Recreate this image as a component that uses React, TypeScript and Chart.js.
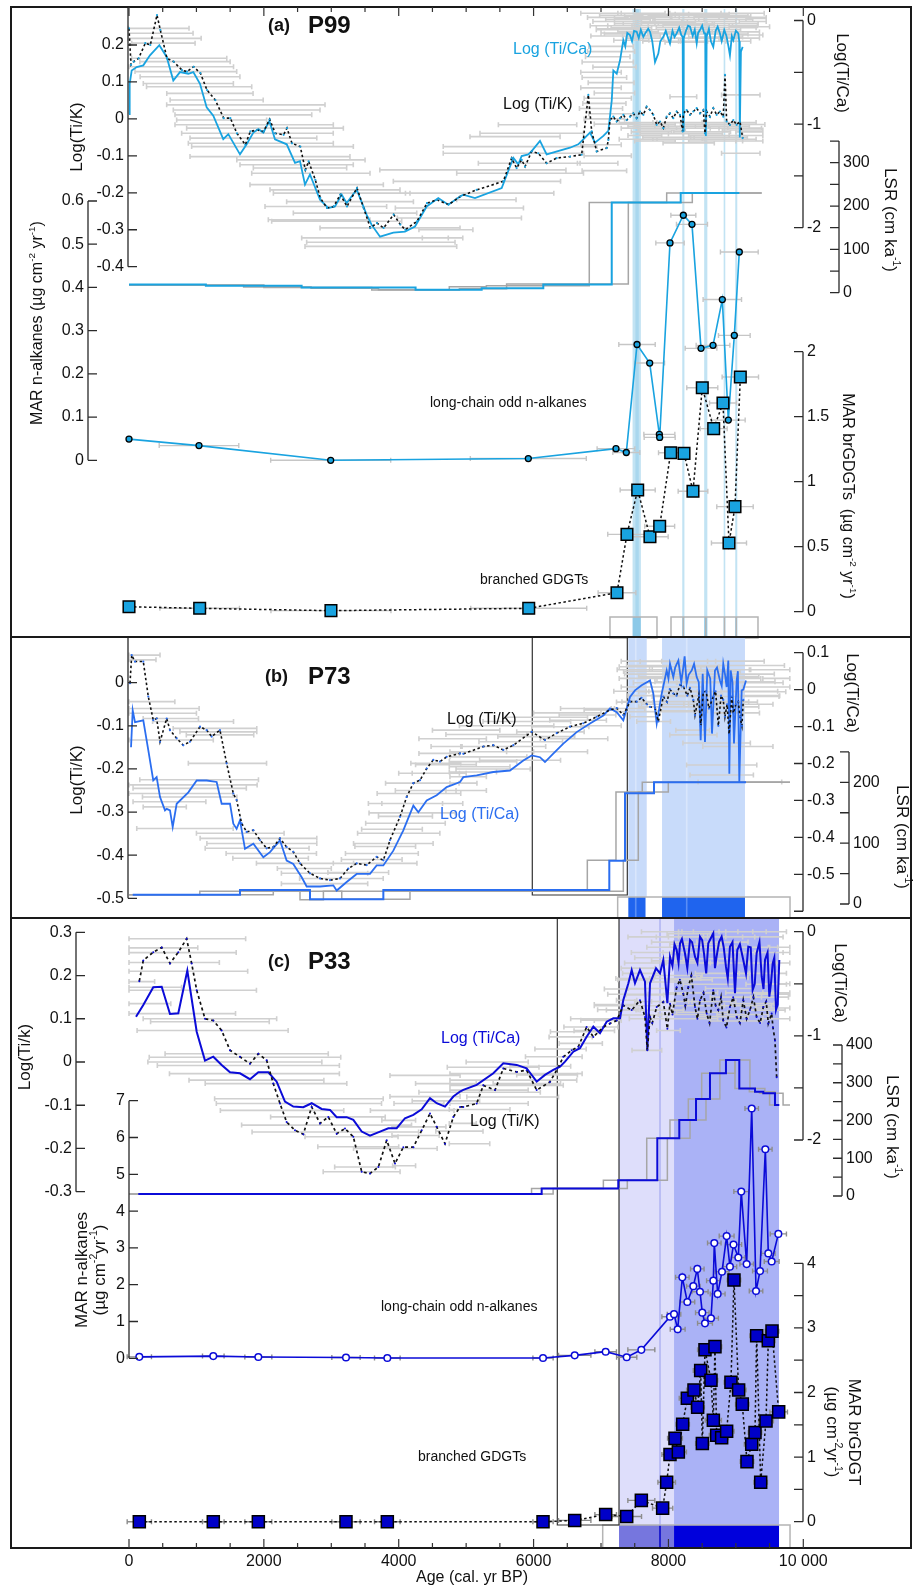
import React, { useEffect, useRef } from 'react';
import { Chart, registerables } from 'chart.js';

Chart.register(...registerables);

const W = 913;
const H = 1587;
const FONT = '"Liberation Sans", Arial, Helvetica, sans-serif';

const CYAN = '#19a3e0';
const BLUE_B = '#2b6ef0';
const BLUE_C = '#0b0bd8';
const GREY_BAR = '#d0d0d0';
const GREY_LSR = '#a6a6a6';

type P = [number, number];
type B = [number, number, number];

// ---------------- x axis ----------------
const xMajor = [0, 2000, 4000, 6000, 8000, 10000];
const xMajorLabels = ['0', '2000', '4000', '6000', '8000', '10 000'];
const xMinor = [500, 1000, 1500, 2500, 3000, 3500, 4500, 5000, 5500, 6500, 7000, 7500, 8500, 9000, 9500];

// ---------------- panel (a) P99 ----------------
const aTiK: P[] = [
  [0, 0.245], [30, 0.146], [70, 0.155], [143, 0.164], [242, 0.205], [316, 0.2], [415, 0.281], [464, 0.241], [563, 0.164],
  [662, 0.155], [786, 0.132], [860, 0.128], [959, 0.141], [1058, 0.124], [1157, 0.078], [1280, 0.051], [1404, 0.002],
  [1503, 0.002], [1601, -0.039], [1725, -0.07], [1799, -0.034], [1898, -0.03], [1997, -0.034], [2086, -0.001],
  [2170, -0.039], [2293, -0.043], [2343, -0.025], [2417, -0.066], [2540, -0.075], [2615, -0.138], [2664, -0.115],
  [2763, -0.165], [2837, -0.214], [2936, -0.241], [3035, -0.237], [3134, -0.205], [3233, -0.237], [3381, -0.187],
  [3480, -0.241], [3579, -0.295], [3678, -0.282], [3776, -0.295], [3925, -0.259], [4024, -0.286], [4098, -0.3],
  [4271, -0.277], [4419, -0.228], [4567, -0.219], [4740, -0.232], [4913, -0.21], [5156, -0.192], [5551, -0.169],
  [5675, -0.106], [5749, -0.133], [5824, -0.111], [5873, -0.129], [5972, -0.088], [6070, -0.093], [6194, -0.12],
  [6342, -0.106], [6540, -0.102], [6713, -0.097], [6812, 0.065], [6862, -0.034], [6936, -0.088], [7084, -0.079],
  [7109, -0.057], [7133, -0.003], [7183, 0.006], [7232, -0.007], [7282, 0.002], [7331, 0.011], [7381, -0.003],
  [7430, 0.006], [7479, 0.015], [7529, 0.002], [7578, 0.02], [7628, 0.011], [7677, 0.033], [7727, 0.024], [7776, 0.011],
  [7826, -0.016], [7875, -0.007], [7924, -0.025], [7974, 0.006], [8023, 0.015], [8072, 0.002], [8122, 0.02], [8171, 0.011],
  [8211, -0.034], [8221, 0.015], [8270, 0.024], [8320, 0.011], [8369, 0.02], [8419, 0.029], [8468, 0.015], [8517, 0.024],
  [8542, -0.039], [8567, 0.02], [8616, 0.006], [8665, 0.029], [8715, 0.011], [8764, 0.02], [8813, 0.006], [8839, 0.119],
  [8863, -0.007], [8912, -0.016], [8962, -0.003], [9011, -0.016], [9061, -0.007], [9101, -0.052],
];
const aTiCa: P[] = [
  [0, -0.903], [10, -0.611], [40, -0.482], [114, -0.449], [212, -0.433], [311, -0.336], [450, -0.238], [559, -0.352],
  [657, -0.579], [756, -0.498], [880, -0.514], [954, -0.498], [1053, -0.611], [1152, -0.839], [1250, -0.919],
  [1398, -1.146], [1473, -1.097], [1646, -1.292], [1745, -1.195], [1844, -1.082], [1918, -1.049], [1992, -1.082],
  [2081, -0.968], [2165, -1.146], [2339, -1.195], [2462, -1.374], [2536, -1.357], [2610, -1.584], [2684, -1.486],
  [2833, -1.73], [2956, -1.811], [3055, -1.795], [3154, -1.681], [3228, -1.763], [3377, -1.632], [3525, -1.876],
  [3599, -1.973], [3723, -2.087], [3920, -2.048], [4093, -2.038], [4241, -1.989], [4415, -1.795], [4587, -1.714],
  [4735, -1.778], [4909, -1.698], [4958, -1.681], [5131, -1.714], [5527, -1.617], [5700, -1.325], [5773, -1.389],
  [5823, -1.308], [5922, -1.292], [5972, -1.26], [6095, -1.162], [6194, -1.292], [6540, -1.228], [6663, -1.195],
  [6837, -1.082], [6911, -1.179], [7035, -1.114], [7109, -1.065], [7159, -0.773], [7183, -0.482], [7233, -0.514],
  [7282, -0.384], [7331, -0.19], [7360, -0.25], [7390, -0.12], [7430, -0.141], [7460, -0.2], [7490, -0.1], [7529, -0.109],
  [7560, -0.17], [7590, -0.09], [7628, -0.158], [7660, -0.12], [7700, -0.08], [7727, -0.109], [7760, -0.2], [7801, -0.401],
  [7850, -0.319], [7880, -0.2], [7924, -0.158], [7960, -0.1], [8000, -0.18], [8023, -0.222], [8060, -0.1], [8090, -0.16],
  [8122, -0.125], [8160, -0.07], [8190, -0.14], [8211, -0.158], [8216, -1.065], [8226, -0.173], [8260, -0.1], [8290, -0.05],
  [8320, -0.06], [8360, -0.15], [8390, -0.09], [8419, -0.222], [8440, -0.12], [8468, -0.092], [8500, -0.05], [8530, -0.125],
  [8547, -0.125], [8555, -1.114], [8566, -0.158], [8600, -0.08], [8630, -0.2], [8665, -0.255], [8700, -0.1], [8730, -0.06],
  [8764, -0.125], [8790, -0.2], [8828, -0.092], [8860, -0.15], [8890, -0.25], [8912, -0.336], [8940, -0.15], [8962, -0.19],
  [9000, -0.1], [9036, -0.125], [9050, -0.2], [9058, -1.13], [9075, -0.3], [9101, -0.255],
];
const aLsrAges = [0, 1140, 2560, 4250, 5230, 6144, 7159, 8182, 9051];
const aLsrBlue = [19, 16, 12, 7, 10, 19, 208, 230, 230];
const aLsrGreyAAges = [0, 1700, 2700, 3700, 4750, 5300, 6826, 7974, 9383];
const aLsrGreyA = [17, 13, 10, 7, 14, 16, 208, 230, 230];
const aLsrGreyBAges = [0, 2000, 3600, 4900, 5600, 7405, 8354, 9383];
const aLsrGreyB = [18, 12, 6, 9, 20, 208, 230, 230];
const aAlk: P[] = [
  [0, 0.049], [1038, 0.034], [2991, 0], [5922, 0.004], [7222, 0.027], [7375, 0.018], [7534, 0.268], [7722, 0.225],
  [7865, 0.06], [7870, 0.053], [8023, 0.503], [8221, 0.567], [8349, 0.546], [8483, 0.259], [8661, 0.266], [8799, 0.372],
  [8888, 0.093], [8977, 0.289], [9051, 0.482],
];
const aAlkErr = [0, 590, 890, 860, 280, 200, 270, 220, 230, 230, 210, 185, 230, 235, 250, 285, 250, 235, 280];
const aBr: P[] = [
  [0, 0.038], [1048, 0.026], [2995, 0.008], [5928, 0.026], [7237, 0.146], [7385, 0.595], [7544, 0.936], [7726, 0.577],
  [7870, 0.657], [8033, 1.223], [8231, 1.218], [8364, 0.926], [8502, 1.723], [8671, 1.408], [8809, 1.605], [8898, 0.528],
  [8987, 0.808], [9066, 1.805],
];
const aBrErr = [0, 590, 890, 860, 280, 285, 260, 270, 222, 180, 0, 220, 230, 200, 200, 260, 270, 270];
const aBands: P[] = [[7468, 7591], [8205, 8237], [8530, 8577], [8819, 8843], [8991, 9021]];
const aBandCore: P[] = [[7510, 7560]];
const aStripBoxes: P[] = [[7133, 7830], [8038, 9328]];
const aBarsK: B[] = [
  [440, 0.245, 450], [470, 0.232, 480], [530, 0.218, 540], [510, 0.205, 470], [745, 0.164, 705], [830, 0.155, 670],
  [775, 0.141, 775], [843, 0.128, 754], [905, 0.114, 740], [880, 0.096, 668], [1040, 0.087, 780], [1200, 0.069, 640],
  [1300, 0.051, 690], [1733, 0.038, 1174], [1745, 0.024, 1088], [1696, 0.011, 1014], [1374, -0.003, 667],
  [1856, -0.016, 1174], [2017, -0.025, 1162], [1905, -0.039, 1124], [1845, -0.052, 940], [1955, -0.066, 1075],
  [2128, -0.075, 1199], [2091, -0.102, 1186], [2550, -0.111, 951], [2486, -0.124, 840], [2536, -0.133, 692],
  [2697, -0.147, 877], [2783, -0.178, 989], [3055, -0.192, 964], [3154, -0.201, 1013], [3278, -0.224, 940],
  [2919, -0.237, 902], [3352, -0.255, 915], [2820, -0.273, 754], [3080, -0.277, 964], [3871, -0.295, 1038],
  [3648, -0.322, 1087], [3735, -0.334, 1100], [3735, -0.345, 1125],
  [6059, -0.016, 581], [5972, -0.039, 767], [5725, -0.048, 668], [5800, -0.075, 1140], [5700, -0.093, 1040],
  [5935, -0.12, 754], [5100, -0.138, 1380], [5800, -0.147, 940], [5160, -0.169, 1240], [5200, -0.201, 1100],
  [5300, -0.219, 440], [4900, -0.241, 950], [4900, -0.268, 920], [4700, -0.3, 400], [4650, -0.322, 300],
  [8221, 0.06, 198], [9073, 0.065, 285], [9073, -0.093, 285],
  [7700, -0.02, 300], [7900, -0.03, 350], [8200, -0.02, 400], [8500, -0.025, 380], [8800, -0.02, 400], [9100, -0.03, 300],
  [7650, -0.045, 250], [8000, -0.05, 380], [8400, -0.04, 400], [8750, -0.05, 420], [9150, -0.045, 250], [7800, -0.06, 300],
  [8300, -0.065, 380], [8700, -0.06, 400], [9200, -0.06, 200],
  [7000, -0.07, 300], [7100, -0.1, 350], [6950, -0.12, 300], [7050, -0.14, 330],
  [7550, -0.01, 280], [8150, -0.01, 380], [8900, -0.01, 400], [7800, -0.015, 300], [8600, -0.015, 420], [9250, -0.015, 180],
  [7600, -0.025, 300], [8350, -0.025, 400], [9000, -0.025, 380], [7750, -0.035, 300], [8500, -0.035, 420],
  [9200, -0.035, 200], [7550, -0.055, 280], [8150, -0.055, 380], [8900, -0.055, 400], [7900, -0.04, 320], [8700, -0.045, 400],
];
const aBarsCa: B[] = [
  [7150, -0.25, 330], [7100, -0.4, 380], [7050, -0.55, 330], [7000, -0.65, 300], [7100, -0.75, 350], [7000, -0.85, 320],
  [7050, -0.95, 300], [7200, -0.15, 350], [7250, -0.08, 320], [7500, 0.02, 300], [7700, 0.04, 350], [7900, 0.06, 400],
  [8200, 0.05, 380], [8500, 0.06, 400], [8800, 0.04, 420], [9100, 0.03, 350], [9300, 0.02, 150], [7400, -0.05, 300],
  [7650, -0.03, 320], [8000, -0.02, 400], [8300, -0.04, 380], [8600, -0.01, 400], [8900, -0.05, 420], [9200, -0.06, 300],
  [7300, -0.12, 300], [7600, -0.15, 280], [8100, -0.12, 350], [8700, -0.16, 400], [9100, -0.14, 300], [7900, -0.2, 280],
  [8500, -0.2, 350],
  [7000, 0.07, 300], [7600, 0.07, 350], [8400, 0.07, 380], [9100, 0.07, 320], [7300, 0.05, 320], [8100, 0.05, 400],
  [8800, 0.05, 380], [7100, 0.03, 300], [7800, 0.03, 360], [8450, 0.03, 420], [9150, 0.03, 300], [7400, 0.01, 330],
  [8150, 0.01, 380], [8850, 0.01, 400], [7200, -0.01, 320], [7900, -0.01, 380], [9250, -0.01, 200], [7500, -0.03, 300],
  [8250, -0.03, 400], [8950, -0.03, 380], [7150, -0.05, 310], [7850, -0.05, 350], [8550, -0.05, 400], [7450, -0.07, 300],
  [8200, -0.07, 380], [8900, -0.07, 400], [7250, -0.09, 320], [7950, -0.09, 350], [8650, -0.09, 420], [7550, -0.11, 300],
  [8350, -0.11, 380], [9000, -0.11, 350], [7350, -0.13, 300], [8050, -0.13, 360], [8800, -0.13, 380], [7650, -0.17, 280],
  [8400, -0.17, 380], [9050, -0.17, 300], [7450, -0.19, 260], [8250, -0.21, 300], [8900, -0.2, 320],
  [7150, -0.3, 350], [7200, -0.45, 320], [7150, -0.6, 340], [7200, -0.7, 300], [7150, -0.9, 330], [7200, -1.0, 300],
  [7100, -0.35, 330], [7000, -0.5, 300], [7050, -0.8, 320],
];

// ---------------- panel (b) P73 ----------------
const bTiK: P[] = [
  [15, -0.001], [40, 0.064], [89, 0.049], [212, 0.049], [286, -0.032], [360, -0.087], [410, -0.083], [460, -0.137],
  [559, -0.083], [608, -0.11], [707, -0.129], [805, -0.145], [904, -0.137], [1053, -0.102], [1152, -0.11], [1226, -0.125],
  [1349, -0.11], [1448, -0.187], [1547, -0.257], [1596, -0.272], [1670, -0.326], [1745, -0.346], [1844, -0.342],
  [1942, -0.365], [2041, -0.384], [2140, -0.381], [2239, -0.361], [2338, -0.381], [2436, -0.392], [2536, -0.419],
  [2684, -0.442], [2833, -0.454], [2981, -0.458], [3129, -0.454], [3253, -0.431], [3377, -0.419], [3525, -0.423],
  [3673, -0.404], [3772, -0.412], [3871, -0.365], [4019, -0.311], [4118, -0.265], [4217, -0.233], [4316, -0.226],
  [4415, -0.199], [4513, -0.179], [4612, -0.183], [4711, -0.172], [4909, -0.164], [4958, -0.165], [5255, -0.148],
  [5403, -0.145], [5551, -0.156], [5700, -0.145], [5972, -0.114], [6169, -0.133], [6343, -0.117], [6540, -0.102],
  [6737, -0.094], [6936, -0.079], [7133, -0.063], [7233, -0.059], [7331, -0.075], [7430, -0.044], [7529, -0.044],
  [7600, -0.035], [7680, -0.05], [7727, -0.056], [7801, -0.059], [7850, -0.09], [7924, -0.032], [7980, -0.045],
  [8020, -0.015], [8072, -0.025], [8120, -0.03], [8170, -0.005], [8221, -0.009], [8280, -0.03], [8320, -0.012],
  [8369, -0.04], [8394, -0.075], [8450, -0.03], [8480, -0.1], [8517, -0.021], [8560, -0.02], [8600, -0.06], [8665, -0.032],
  [8700, -0.02], [8740, -0.1], [8780, -0.03], [8813, -0.04], [8838, -0.079], [8870, -0.05], [8900, -0.12], [8938, -0.032],
  [8962, -0.071], [9000, -0.05], [9036, -0.044], [9061, -0.079], [9090, -0.1], [9110, -0.04],
];
const bTiCa: P[] = [
  [30, -0.156], [55, -0.056], [89, -0.088], [212, -0.083], [286, -0.164], [360, -0.246], [410, -0.237], [460, -0.291],
  [534, -0.327], [559, -0.323], [608, -0.327], [648, -0.372], [707, -0.309], [880, -0.278], [1004, -0.246], [1152, -0.246],
  [1300, -0.25], [1374, -0.309], [1498, -0.309], [1547, -0.363], [1596, -0.377], [1646, -0.354], [1720, -0.431],
  [1844, -0.417], [1992, -0.454], [2091, -0.44], [2239, -0.408], [2338, -0.463], [2436, -0.472], [2561, -0.508],
  [2635, -0.533], [2833, -0.533], [3030, -0.53], [3080, -0.544], [3228, -0.521], [3377, -0.499], [3574, -0.499],
  [3673, -0.476], [3772, -0.476], [3920, -0.436], [4068, -0.381], [4217, -0.314], [4291, -0.332], [4415, -0.3],
  [4563, -0.286], [4711, -0.264], [4909, -0.25], [4958, -0.237], [5156, -0.232], [5403, -0.223], [5650, -0.219],
  [5848, -0.192], [5972, -0.178], [6095, -0.183], [6169, -0.196], [6292, -0.173], [6441, -0.146], [6639, -0.115],
  [6837, -0.092], [7035, -0.07], [7133, -0.051], [7233, -0.061], [7331, -0.083], [7430, -0.02], [7504, -0.002],
  [7603, 0.012], [7727, 0.025], [7776, -0.011], [7826, -0.092], [7900, -0.011], [7974, 0.052], [8000, 0.03], [8023, 0.07],
  [8072, 0.034], [8100, 0.06], [8147, 0.079], [8190, 0.02], [8221, 0.061], [8240, 0.09], [8270, 0.016], [8300, 0.04],
  [8345, 0.052], [8380, 0.07], [8419, 0.034], [8450, 0.02], [8478, -0.137], [8508, 0.043], [8542, -0.142], [8576, 0.052],
  [8620, 0.03], [8646, -0.119], [8690, 0.052], [8720, 0.06], [8764, 0.025], [8790, 0.01], [8813, 0.07], [8840, 0.04],
  [8863, 0.007], [8888, 0.079], [8903, -0.228], [8923, 0.052], [8950, 0.02], [8972, -0.146], [9012, 0.025], [9030, 0.05],
  [9051, -0.25], [9086, -0.002], [9110, 0.0], [9150, 0.025],
];
const bLsrAges = [55, 1646, 2684, 3772, 7123, 7356, 7786, 9150];
const bLsrBlue = [15, 23, 8, 23, 71, 182, 200, 200];
const bLsrGreyAAges = [0, 1050, 2536, 2883, 6797, 7222, 7612, 9803];
const bLsrGreyA = [15, 21, 7, 21, 72, 184, 200, 200];
const bLsrGreyBAges = [0, 2140, 3155, 4167, 7331, 7553, 7998, 9803];
const bLsrGreyB = [15, 21, 8, 21, 72, 184, 200, 200];
const bBands: P[] = [[7405, 7678], [7905, 9135]];
const bBandStripes = [7515, 8271];
const bStripFills: P[] = [[7405, 7660], [7905, 9135]];
const bStripBox: P = [7247, 9803];
const bRect: P = [5981, 7390];
const bBarsK: B[] = [
  [230, 0.064, 230], [200, 0.053, 200], [340, -0.044, 340], [520, -0.06, 520], [500, -0.071, 500], [620, -0.083, 410],
  [950, -0.09, 600], [1275, -0.106, 620], [1325, -0.114, 570], [1350, -0.121, 500], [625, -0.133, 625],
  [1460, -0.187, 580], [1040, -0.225, 880], [950, -0.237, 950], [900, -0.245, 840], [770, -0.257, 770], [900, -0.265, 700],
  [600, -0.276, 540], [530, -0.288, 320], [830, -0.338, 715], [1650, -0.349, 650], [1920, -0.361, 865],
  [1970, -0.373, 815], [1900, -0.384, 770], [2110, -0.396, 670], [2100, -0.407, 560], [2610, -0.419, 720],
  [2600, -0.431, 400], [2900, -0.442, 640], [3150, -0.454, 620], [2900, -0.466, 640],
  [3650, -0.419, 620], [3750, -0.396, 540], [3920, -0.373, 590], [4000, -0.349, 610], [4100, -0.326, 590],
  [4200, -0.302, 640], [4250, -0.28, 700], [4300, -0.257, 620], [4350, -0.233, 545], [4450, -0.21, 450],
  [4550, -0.187, 370], [4600, -0.164, 300], [4700, -0.148, 220],
  [7000, -0.063, 250], [6800, -0.075, 420], [6660, -0.087, 420], [6400, -0.102, 420], [6250, -0.114, 500],
  [6040, -0.125, 570], [5810, -0.137, 620], [5560, -0.148, 620], [5380, -0.16, 620], [5330, -0.172, 570],
  [5250, -0.183, 500], [5200, -0.195, 450], [5100, -0.207, 350], [5030, -0.218, 270], [4960, -0.233, 200],
  [7880, 0.049, 300], [8010, 0.037, 740], [8200, 0.026, 865], [8450, 0.014, 890], [8690, 0.002, 890],
  [7900, -0.01, 600], [9450, -0.01, 350], [8650, -0.021, 1090], [8700, -0.032, 940], [8250, -0.044, 940],
  [8450, -0.056, 890], [7870, -0.067, 640], [7630, -0.079, 200], [7780, -0.09, 250],
  [8360, -0.11, 250], [8370, -0.121, 350], [9030, -0.148, 520], [8715, -0.14, 500], [8790, -0.191, 520],
  [8790, -0.214, 470], [9060, -0.23, 620],
  [7600, 0.05, 300], [8300, 0.05, 400], [9000, 0.05, 420], [7700, 0.04, 320], [8500, 0.04, 400], [9300, 0.04, 420],
  [7500, 0.03, 260], [8100, 0.03, 380], [8800, 0.03, 420], [9500, 0.03, 300], [7650, 0.02, 300], [8400, 0.02, 400],
  [9150, 0.02, 420], [7550, 0.01, 280], [8200, 0.01, 400], [8950, 0.01, 420], [9600, 0.01, 200], [7800, 0.0, 320],
  [8550, 0.0, 420], [9300, 0.0, 400], [7450, -0.02, 260], [8050, -0.02, 380], [9200, -0.02, 420], [7700, -0.03, 300],
  [8400, -0.03, 400], [9350, -0.03, 300], [7500, -0.045, 270], [8900, -0.045, 420], [7950, -0.05, 350],
  [8650, -0.05, 420], [9300, -0.05, 250], [7400, -0.06, 250], [8200, -0.065, 380], [9000, -0.07, 350],
  [5000, -0.11, 500], [5300, -0.12, 600], [5600, -0.1, 700], [5900, -0.09, 650], [6200, -0.08, 600], [6500, -0.07, 500],
  [6800, -0.06, 400], [4800, -0.13, 500], [4700, -0.19, 450], [4600, -0.21, 400], [4400, -0.25, 450], [4200, -0.28, 450],
  [4100, -0.31, 400], [3900, -0.34, 450], [3800, -0.38, 450], [3600, -0.41, 450], [3400, -0.44, 450], [5000, -0.25, 300],
  [5400, -0.2, 550], [5800, -0.18, 600], [6200, -0.16, 600], [6600, -0.13, 500], [7000, -0.1, 300],
];

// ---------------- panel (c) P33 ----------------
const cTiK: P[] = [
  [153, 0.187], [212, 0.235], [360, 0.254], [485, 0.265], [608, 0.228], [731, 0.254], [855, 0.285], [929, 0.228],
  [1004, 0.166], [1127, 0.1], [1250, 0.096], [1374, 0.073], [1498, 0.027], [1646, 0.012], [1794, -0.004], [1918, 0.019],
  [2041, 0.004], [2140, -0.05], [2239, -0.096], [2338, -0.139], [2462, -0.158], [2585, -0.167], [2709, -0.104],
  [2833, -0.142], [2956, -0.127], [3080, -0.166], [3203, -0.154], [3327, -0.173], [3451, -0.254], [3574, -0.258],
  [3698, -0.243], [3822, -0.181], [3945, -0.235], [4068, -0.197], [4217, -0.197], [4341, -0.158], [4464, -0.119],
  [4563, -0.15], [4686, -0.189], [4810, -0.127], [4909, -0.104], [4958, -0.104], [5156, -0.096], [5255, -0.054],
  [5428, -0.065], [5551, -0.015], [5749, -0.023], [5897, -0.019], [6046, -0.065], [6243, -0.046], [6367, -0.012],
  [6441, 0.012], [6565, 0.027], [6663, 0.035], [6787, 0.081], [6886, 0.058], [7035, 0.081], [7133, 0.089], [7233, 0.096],
  [7331, 0.131], [7455, 0.12], [7578, 0.143], [7652, 0.104], [7687, 0.027], [7727, 0.104], [7760, 0.09], [7826, 0.127],
  [7924, 0.139], [7984, 0.077], [8023, 0.135], [8060, 0.11], [8122, 0.173], [8170, 0.19], [8221, 0.158], [8250, 0.13],
  [8295, 0.173], [8340, 0.2], [8394, 0.127], [8430, 0.1], [8468, 0.143], [8520, 0.16], [8567, 0.112], [8610, 0.09],
  [8665, 0.166], [8700, 0.13], [8739, 0.12], [8780, 0.15], [8813, 0.096], [8860, 0.08], [8912, 0.127], [8960, 0.15],
  [9012, 0.104], [9060, 0.09], [9110, 0.143], [9160, 0.1], [9209, 0.12], [9260, 0.15], [9308, 0.104], [9360, 0.09],
  [9407, 0.127], [9450, 0.14], [9481, 0.089], [9531, 0.112], [9550, 0.08], [9580, 0.05], [9605, -0.035],
];
const cTiCa: P[] = [
  [104, -0.816], [212, -0.703], [360, -0.534], [485, -0.528], [608, -0.79], [731, -0.783], [865, -0.374], [1004, -0.96],
  [1127, -1.238], [1250, -1.2], [1374, -1.279], [1498, -1.35], [1646, -1.36], [1794, -1.416], [1918, -1.35],
  [2066, -1.35], [2190, -1.44], [2313, -1.631], [2437, -1.679], [2585, -1.685], [2709, -1.647], [2857, -1.702],
  [2981, -1.711], [3080, -1.781], [3228, -1.781], [3327, -1.807], [3451, -1.919], [3574, -1.958], [3723, -1.919],
  [3846, -1.887], [3970, -1.887], [4093, -1.791], [4217, -1.759], [4341, -1.705], [4464, -1.599], [4563, -1.647],
  [4686, -1.679], [4810, -1.583], [4909, -1.535], [4958, -1.519], [5156, -1.471], [5403, -1.359], [5551, -1.263],
  [5749, -1.279], [5897, -1.311], [6046, -1.44], [6169, -1.375], [6292, -1.327], [6392, -1.296], [6466, -1.248],
  [6589, -1.152], [6688, -1.119], [6787, -1.008], [6886, -0.912], [6985, -0.975], [7084, -0.864], [7183, -0.831],
  [7282, -0.831], [7331, -0.655], [7406, -0.495], [7455, -0.368], [7504, -0.495], [7578, -0.368], [7652, -0.48],
  [7687, -1.135], [7727, -0.495], [7816, -0.351], [7875, -0.399], [7924, -0.272], [7984, -0.687], [8023, -0.24],
  [8060, -0.33], [8090, -0.12], [8122, -0.176], [8150, -0.3], [8172, -0.111], [8200, -0.07], [8245, -0.207],
  [8280, -0.35], [8320, -0.08], [8350, -0.1], [8394, -0.24], [8430, -0.3], [8468, -0.048], [8500, -0.08], [8527, -0.207],
  [8560, -0.4], [8591, -0.111], [8630, -0.06], [8665, -0.015], [8690, -0.35], [8714, -0.24], [8750, -0.1], [8789, -0.048],
  [8820, -0.15], [8853, -0.336], [8880, -0.45], [8912, -0.144], [8950, -0.1], [8987, -0.591], [9021, -0.176],
  [9060, -0.12], [9110, -0.272], [9150, -0.4], [9184, -0.144], [9220, -0.15], [9249, -0.56], [9280, -0.5], [9308, -0.207],
  [9350, -0.1], [9383, -0.432], [9410, -0.55], [9432, -0.272], [9470, -0.2], [9496, -0.624], [9520, -0.5], [9546, -0.304],
  [9570, -0.25], [9595, -0.751], [9620, -0.7], [9644, -0.272],
];
const cLsrAges = [138, 6120, 7256, 7835, 8161, 8409, 8616, 8853, 9051, 9284, 9407, 9580, 9644];
const cLsrBlue = [5, 20, 42, 153, 201, 257, 325, 360, 285, 276, 272, 241, 241];
const cLsrGreyAAges = [0, 5970, 7035, 7678, 8023, 8295, 8493, 8763, 8987, 9200, 9350, 9500, 9580];
const cLsrGreyA = [5, 20, 42, 153, 201, 257, 325, 360, 285, 276, 272, 241, 241];
const cLsrGreyBAges = [0, 6290, 7390, 7984, 8320, 8557, 8763, 8987, 9209, 9430, 9580, 9700, 9803];
const cLsrGreyB = [5, 20, 42, 153, 201, 257, 325, 360, 285, 276, 272, 241, 241];
const cAlk: P[] = [
  [153, 0.04], [1250, 0.06], [1918, 0.035], [3218, 0.02], [3831, 0.01], [6140, 0.01], [6610, 0.08], [7069, 0.18],
  [7381, 0.03], [7598, 0.23], [8023, 1.13], [8083, 1.2], [8137, 0.79], [8206, 2.2], [8280, 1.53], [8369, 1.96],
  [8428, 2.43], [8468, 1.81], [8502, 1.24], [8542, 0.95], [8631, 1.09], [8666, 2.11], [8680, 3.13], [8730, 1.75],
  [8794, 2.35], [8863, 3.32], [8912, 2.49], [8965, 3.09], [9036, 2.74], [9080, 4.53], [9160, 2.56], [9235, 6.79],
  [9299, 1.83], [9358, 2.37], [9437, 5.68], [9481, 2.85], [9531, 2.63], [9630, 3.38],
];
const cAlkErr = [180, 160, 200, 210, 190, 150, 240, 160, 150, 200, 120, 100, 110, 100, 110, 100, 100, 120, 100, 110,
  110, 100, 100, 110, 100, 110, 100, 120, 100, 110, 100, 100, 100, 110, 100, 100, 110, 120];
const cBr: P[] = [
  [153, 0], [1250, 0], [1918, 0], [3218, 0], [3831, 0], [6140, 0], [6610, 0.02], [7069, 0.11], [7381, 0.08], [7598, 0.33],
  [7914, 0.21], [7974, 0.61], [8023, 1.04], [8097, 1.29], [8147, 1.08], [8211, 1.51], [8280, 1.91], [8379, 2.04],
  [8433, 1.77], [8478, 2.34], [8503, 1.21], [8542, 2.66], [8631, 2.19], [8666, 1.57], [8690, 2.71], [8715, 1.34],
  [8789, 1.3], [8863, 1.4], [8927, 2.16], [8972, 3.74], [9041, 2.04], [9095, 1.82], [9165, 0.93], [9235, 1.2],
  [9284, 1.38], [9308, 2.88], [9368, 0.61], [9447, 1.56], [9481, 2.8], [9536, 2.95], [9635, 1.7],
];
const cBrErr = [180, 160, 200, 210, 190, 150, 240, 160, 220, 200, 150, 130, 120, 110, 120, 100, 120, 110, 100, 110,
  100, 110, 100, 120, 100, 110, 100, 110, 100, 100, 110, 100, 100, 110, 100, 100, 100, 110, 100, 100, 130];
const cBandLight: P = [7267, 8083];
const cBandLine = 7875;
const cBandDark: P = [8083, 9640];
const cStripBox: P = [7025, 9803];
const cRect: P = [6352, 7267];
const cBarsK: B[] = [
  [865, 0.285, 865], [510, 0.264, 510], [795, 0.253, 795], [670, 0.23, 670], [880, 0.21, 880], [190, 0.186, 190],
  [390, 0.173, 390], [945, 0.166, 945], [310, 0.135, 310], [790, 0.112, 790], [1200, 0.1, 990], [1200, 0.093, 880],
  [1240, 0.073, 1120], [1745, 0.019, 1210], [1720, 0.011, 1420], [1570, 0.0, 1290], [1770, -0.008, 1350],
  [1860, -0.027, 1260], [1890, -0.042, 1000], [2180, -0.05, 1050], [2520, -0.085, 1250], [2520, -0.096, 1225],
  [2270, -0.112, 915], [2950, -0.127, 850], [2930, -0.146, 1260], [3060, -0.162, 1235], [3300, -0.173, 690],
  [3400, -0.196, 600], [3450, -0.254, 570], [3500, -0.243, 450],
  [4390, -0.031, 520], [4700, -0.05, 450], [4750, -0.07, 450], [4390, -0.08, 520], [4300, -0.096, 370],
  [4200, -0.112, 620], [4000, -0.135, 250], [4300, -0.15, 400], [4250, -0.17, 350], [3950, -0.2, 620], [4080, -0.24, 170],
  [5460, 0.0, 460], [5400, -0.012, 680], [5740, -0.027, 980], [5700, -0.042, 940], [5600, -0.054, 840],
  [5340, -0.065, 580], [5690, -0.081, 680], [5340, -0.096, 580], [4950, -0.142, 200], [5050, -0.189, 300],
  [6300, 0.012, 420], [6700, 0.043, 320], [6550, 0.058, 320], [6850, 0.081, 400], [7100, 0.096, 200], [7300, 0.12, 220],
  [7380, 0.143, 150], [7680, 0.027, 220], [8000, 0.073, 175],
  [7700, 0.17, 300], [8000, 0.185, 320], [8300, 0.19, 350], [8600, 0.18, 380], [8900, 0.17, 350], [9200, 0.16, 350],
  [9500, 0.15, 280], [7600, 0.13, 280], [7900, 0.12, 320], [8200, 0.11, 350], [8500, 0.115, 380], [8800, 0.105, 380],
  [9100, 0.11, 380], [9400, 0.12, 330], [9600, 0.1, 200], [8050, 0.14, 300], [8650, 0.14, 350], [9250, 0.135, 320],
  [7500, 0.19, 250], [8150, 0.2, 350], [8800, 0.195, 380], [9450, 0.18, 300], [7650, 0.155, 280], [8350, 0.16, 380],
  [9000, 0.15, 380], [9600, 0.16, 200], [7800, 0.14, 300], [8450, 0.13, 380], [9150, 0.13, 380], [7700, 0.1, 280],
  [8350, 0.1, 380], [9000, 0.095, 380], [9550, 0.125, 250],
  [6600, 0.07, 350], [6900, 0.1, 350], [7200, 0.13, 300], [6400, 0.03, 380], [6100, -0.01, 450], [5900, -0.05, 500],
  [6200, -0.03, 450], [5500, -0.07, 600], [5200, -0.11, 450], [4700, -0.09, 500], [4900, -0.16, 350],
];
const cBarsCa: B[] = [
  [8300, -0.02, 320], [8500, -0.05, 350], [8700, 0.0, 330], [8050, -0.1, 300], [8400, -0.12, 380], [8800, -0.1, 380],
  [9100, -0.15, 380], [9400, -0.2, 300], [7800, -0.25, 300], [8100, -0.28, 350], [8600, -0.26, 380], [9000, -0.3, 380],
  [9500, -0.3, 300], [7600, -0.4, 280], [7350, -0.55, 300], [7550, -0.35, 250], [9600, -0.5, 200], [7200, -0.7, 300],
  [7000, -0.85, 300], [6900, -0.95, 300],
  [7900, 0.0, 300], [8500, 0.0, 350], [9100, 0.0, 350], [9500, 0.0, 250], [7700, -0.05, 300], [8200, -0.05, 380],
  [8900, -0.05, 380], [9400, -0.05, 300], [8000, -0.15, 320], [8600, -0.15, 380], [9300, -0.15, 320], [9650, -0.15, 150],
  [7750, -0.2, 300], [8300, -0.2, 380], [8900, -0.2, 380], [9550, -0.2, 250], [7650, -0.3, 300], [8350, -0.3, 380],
  [9250, -0.3, 350], [7500, -0.45, 280], [8100, -0.45, 380], [8800, -0.4, 400], [9400, -0.4, 350], [7400, -0.6, 300],
  [7950, -0.6, 300], [9550, -0.6, 250], [7250, -0.75, 300], [7600, -0.8, 300],
];

// ---------------- axis ticks ----------------
const aTiKTicks = [0.2, 0.1, 0, -0.1, -0.2, -0.3, -0.4];
const aAlkTicks = [0.6, 0.5, 0.4, 0.3, 0.2, 0.1, 0];
const aTiCaTicks = [0, -1, -2];
const aTiCaMinor = [-0.5, -1.5];
const aLsrTicks = [300, 200, 100, 0];
const aLsrMinor = [350, 250, 150, 50];
const aBrTicks = [2, 1.5, 1, 0.5, 0];
const bTiKTicks = [0, -0.1, -0.2, -0.3, -0.4, -0.5];
const bTiCaTicks = [0.1, 0, -0.1, -0.2, -0.3, -0.4, -0.5];
const bTiCaMinor = [-0.6];
const bLsrTicks = [200, 100, 0];
const bLsrMinor = [250, 150, 50];
const cTiKTicks = [0.3, 0.2, 0.1, 0, -0.1, -0.2, -0.3];
const cAlkTicks = [7, 6, 5, 4, 3, 2, 1, 0];
const cTiCaTicks = [0, -1, -2];
const cTiCaMinor = [-0.5, -1.5];
const cLsrTicks = [400, 300, 200, 100, 0];
const cLsrMinor = [350, 250, 150, 50];
const cBrTicks = [4, 3, 2, 1, 0];
const cBrMinor = [3.5, 2.5, 1.5, 0.5];

// ---------------- layout (pixel calibration of each scale: value1, pixel1, value2, pixel2) ----------------
const CAL: Record<string, number[]> = {
  x: [0, 129, 10000, 803.3],
  aTiK: [0.2, 45, -0.4, 266.7],
  aTiCa: [0, 20.5, -2, 227.7],
  aLSR: [300, 162.7, 0, 292.7],
  aAlk: [0.6, 201, 0, 460.3],
  aBr: [2, 351.7, 0, 611.7],
  bTiK: [0, 682.7, -0.5, 898.3],
  bTiCa: [0.1, 652.7, -0.5, 874.3],
  bLSR: [200, 782.3, 0, 904],
  cTiK: [0.3, 932.3, -0.3, 1191.7],
  cTiCa: [0, 931.7, -2, 1140],
  cLSR: [400, 1045, 0, 1196],
  cAlk: [7, 1100.7, 0, 1358.3],
  cBr: [4, 1263.3, 0, 1521.7],
};

type AxisSpec = { scale: string; side: 'left' | 'right'; x: number; from: number; to: number; major: number[]; minor?: number[] };
const AXES: AxisSpec[] = [
  { scale: 'aTiK', side: 'left', x: 128, from: 0.3, to: -0.4, major: aTiKTicks },
  { scale: 'aAlk', side: 'left', x: 88, from: 0.6, to: 0, major: aAlkTicks },
  { scale: 'aTiCa', side: 'right', x: 803, from: 0, to: -2, major: aTiCaTicks, minor: aTiCaMinor },
  { scale: 'aLSR', side: 'right', x: 839, from: 350, to: 0, major: aLsrTicks, minor: aLsrMinor },
  { scale: 'aBr', side: 'right', x: 803, from: 2, to: 0, major: aBrTicks },
  { scale: 'bTiK', side: 'left', x: 128, from: 0.105, to: -0.5, major: bTiKTicks },
  { scale: 'bTiCa', side: 'right', x: 803, from: 0.1, to: -0.6, major: bTiCaTicks, minor: bTiCaMinor },
  { scale: 'bLSR', side: 'right', x: 849, from: 250, to: 0, major: bLsrTicks, minor: bLsrMinor },
  { scale: 'cTiK', side: 'left', x: 76, from: 0.3, to: -0.3, major: cTiKTicks },
  { scale: 'cAlk', side: 'left', x: 129, from: 7, to: 0, major: cAlkTicks },
  { scale: 'cTiCa', side: 'right', x: 803, from: 0, to: -2, major: cTiCaTicks, minor: cTiCaMinor },
  { scale: 'cLSR', side: 'right', x: 842, from: 400, to: 0, major: cLsrTicks, minor: cLsrMinor },
  { scale: 'cBr', side: 'right', x: 803, from: 4, to: 0, major: cBrTicks, minor: cBrMinor },
];

type Part = [string, boolean?];
type Title = { x: number; y: number; rot: number; size: number; parts: Part[] };
const TITLES: Title[] = [
  { x: 77, y: 137, rot: -90, size: 17, parts: [['Log(Ti/K)']] },
  { x: 38, y: 323, rot: -90, size: 16, parts: [['MAR n-alkanes (µg cm'], ['-2', true], [' yr'], ['-1', true], [')']] },
  { x: 842, y: 73, rot: 90, size: 17, parts: [['Log(Ti/Ca)']] },
  { x: 890, y: 220, rot: 90, size: 17, parts: [['LSR (cm ka'], ['-1', true], [')']] },
  { x: 847, y: 496, rot: 90, size: 16, parts: [['MAR brGDGTs  (µg cm'], ['-2', true], [' yr'], ['-1', true], [')']] },
  { x: 77, y: 780, rot: -90, size: 17, parts: [['Log(Ti/K)']] },
  { x: 852, y: 693, rot: 90, size: 17, parts: [['Log(Ti/Ca)']] },
  { x: 902, y: 837, rot: 90, size: 17, parts: [['LSR (cm ka'], ['-1', true], [')']] },
  { x: 25, y: 1057, rot: -90, size: 17, parts: [['Log(Ti/k)']] },
  { x: 82, y: 1270, rot: -90, size: 17, parts: [['MAR n-alkanes']] },
  { x: 100, y: 1270, rot: -90, size: 17, parts: [['(µg cm'], ['-2', true], ['yr'], ['-1', true], [')']] },
  { x: 840, y: 983, rot: 90, size: 17, parts: [['Log(Ti/Ca)']] },
  { x: 892, y: 1127, rot: 90, size: 17, parts: [['LSR (cm ka'], ['-1', true], [')']] },
  { x: 854, y: 1432, rot: 90, size: 17, parts: [['MAR brGDGT']] },
  { x: 832, y: 1432, rot: 90, size: 17, parts: [['(µg cm'], ['-2', true], ['yr'], ['-1', true], [')']] },
];

type Note = { text: string; x: number; y: number; font: string; color: string; align?: CanvasTextAlign };
const NOTES: Note[] = [
  { text: '(a)', x: 268, y: 26, font: `bold 18px ${FONT}`, color: '#111' },
  { text: 'P99', x: 308, y: 26, font: `bold 24px ${FONT}`, color: '#111' },
  { text: 'Log (Ti/Ca)', x: 513, y: 50, font: `16px ${FONT}`, color: CYAN },
  { text: 'Log (Ti/K)', x: 503, y: 105, font: `16px ${FONT}`, color: '#111' },
  { text: 'long-chain odd n-alkanes', x: 430, y: 403, font: `14px ${FONT}`, color: '#111' },
  { text: 'branched GDGTs', x: 480, y: 580, font: `14px ${FONT}`, color: '#111' },
  { text: '(b)', x: 265, y: 677, font: `bold 18px ${FONT}`, color: '#111' },
  { text: 'P73', x: 308, y: 677, font: `bold 24px ${FONT}`, color: '#111' },
  { text: 'Log (Ti/K)', x: 447, y: 720, font: `16px ${FONT}`, color: '#111' },
  { text: 'Log (Ti/Ca)', x: 440, y: 815, font: `16px ${FONT}`, color: BLUE_B },
  { text: '(c)', x: 268, y: 962, font: `bold 18px ${FONT}`, color: '#111' },
  { text: 'P33', x: 308, y: 962, font: `bold 24px ${FONT}`, color: '#111' },
  { text: 'Log (Ti/Ca)', x: 441, y: 1039, font: `16px ${FONT}`, color: BLUE_C },
  { text: 'Log (Ti/K)', x: 470, y: 1122, font: `16px ${FONT}`, color: '#111' },
  { text: 'long-chain odd n-alkanes', x: 381, y: 1307, font: `14px ${FONT}`, color: '#111' },
  { text: 'branched GDGTs', x: 418, y: 1457, font: `14px ${FONT}`, color: '#111' },
  { text: 'Age (cal. yr BP)', x: 472, y: 1578, font: `16px ${FONT}`, color: '#111', align: 'center' },
];

// ---------------- helpers ----------------
const pts = (a: P[]) => a.slice().sort((p, q) => p[0] - q[0]).map(([x, y]) => ({ x, y }));
const steps = (ages: number[], vals: number[]) => ages.map((x, i) => ({ x, y: vals[i] }));

function bounds(key: string, isX: boolean) {
  const [v1, p1, v2, p2] = CAL[key];
  const s = (p2 - p1) / (v2 - v1);
  const a = v1 + (0 - p1) / s;
  const b = v1 + ((isX ? W : H) - p1) / s;
  return { min: Math.min(a, b), max: Math.max(a, b) };
}

function richText(ctx: CanvasRenderingContext2D, parts: Part[], x: number, y: number, size: number, rot: number) {
  ctx.save();
  ctx.translate(x, y);
  ctx.rotate((rot * Math.PI) / 180);
  ctx.textBaseline = 'middle';
  ctx.textAlign = 'left';
  ctx.fillStyle = '#111';
  const sup = size * 0.62;
  const widths = parts.map(([t, s]) => {
    ctx.font = `${s ? sup : size}px ${FONT}`;
    return ctx.measureText(t).width;
  });
  const total = widths.reduce((u, v) => u + v, 0);
  let cx = -total / 2;
  parts.forEach(([t, s], i) => {
    ctx.font = `${s ? sup : size}px ${FONT}`;
    ctx.fillText(t, cx, s ? -size * 0.33 : 0);
    cx += widths[i];
  });
  ctx.restore();
}

function hbar(ctx: CanvasRenderingContext2D, x1: number, x2: number, y: number, cap: number) {
  ctx.moveTo(x1, y);
  ctx.lineTo(x2, y);
  ctx.moveTo(x1, y - cap);
  ctx.lineTo(x1, y + cap);
  ctx.moveTo(x2, y - cap);
  ctx.lineTo(x2, y + cap);
}

const figurePlugin = {
  id: 'figure',
  beforeDatasetsDraw(chart: any) {
    const ctx: CanvasRenderingContext2D = chart.ctx;
    const xs = chart.scales.x;
    const X = (v: number) => xs.getPixelForValue(v);
    ctx.save();
    const band = (a: number, b: number, y1: number, y2: number, color: string) => {
      ctx.fillStyle = color;
      ctx.fillRect(X(a), y1, X(b) - X(a), y2 - y1);
    };
    // panel a bands
    aBands.forEach(([a, b]) => band(a, b, 9, 617, '#c2e3f3'));
    aBandCore.forEach(([a, b]) => band(a, b, 9, 617, '#a9d7ee'));
    aBands.forEach(([a, b]) => band(a, b, 617, 637, '#8cc9e8'));
    ctx.strokeStyle = '#b4b4b4';
    ctx.lineWidth = 1.5;
    aStripBoxes.forEach(([a, b]) => ctx.strokeRect(X(a), 617, X(b) - X(a), 21));
    ctx.beginPath();
    aBands.forEach(([a, b]) => {
      const m = X((a + b) / 2);
      if (m > X(aStripBoxes[1][0])) { ctx.moveTo(m, 617); ctx.lineTo(m, 637); }
    });
    ctx.stroke();
    // panel b bands
    bBands.forEach(([a, b]) => band(a, b, 638, 897, '#c8dbfa'));
    bBandStripes.forEach((s) => band(s - 12, s + 12, 638, 897, '#d9e6fc'));
    bStripFills.forEach(([a, b]) => band(a, b, 897, 918, '#1f64ee'));
    bBandStripes.forEach((s) => band(s - 12, s + 12, 897, 918, '#5a8ef5'));
    ctx.strokeStyle = '#b4b4b4';
    ctx.strokeRect(X(bStripBox[0]), 897, X(bStripBox[1]) - X(bStripBox[0]), 21);
    // panel c bands
    band(cBandLight[0], cBandLight[1], 919, 1525, '#dedefb');
    band(cBandDark[0], cBandDark[1], 919, 1525, '#aab2f6');
    band(cBandLine - 14, cBandLine + 14, 919, 1525, '#b9bcf4');
    band(cBandLight[0], cBandLight[1], 1525, 1548, '#7676de');
    band(cBandDark[0], cBandDark[1], 1525, 1548, '#0000dc');
    band(cBandLine - 14, cBandLine + 14, 1525, 1548, '#1a1acc');
    ctx.strokeStyle = '#b4b4b4';
    ctx.strokeRect(X(cStripBox[0]), 1525, X(cStripBox[1]) - X(cStripBox[0]), 23);
    // black outline rectangles
    ctx.strokeStyle = '#333';
    ctx.lineWidth = 1.2;
    ctx.beginPath();
    ctx.moveTo(X(bRect[0]), 638); ctx.lineTo(X(bRect[0]), 895); ctx.lineTo(X(bRect[1]), 895); ctx.lineTo(X(bRect[1]), 638);
    ctx.moveTo(X(cRect[0]), 919); ctx.lineTo(X(cRect[0]), 1525); ctx.lineTo(X(cRect[1]), 1525); ctx.lineTo(X(cRect[1]), 919);
    ctx.stroke();
    // grey age-uncertainty bars
    const bars = (list: B[], sid: string) => {
      const s = chart.scales[sid];
      list.forEach(([age, v, h]) => hbar(ctx, X(age - h), X(age + h), s.getPixelForValue(v), 2.5));
    };
    ctx.strokeStyle = GREY_BAR;
    ctx.lineWidth = 1.6;
    ctx.beginPath();
    bars(aBarsK, 'aTiK');
    bars(aBarsCa, 'aTiCa');
    bars(bBarsK, 'bTiK');
    bars(cBarsK, 'cTiK');
    bars(cBarsCa, 'cTiCa');
    ctx.stroke();
    // error bars attached to datasets
    chart.data.datasets.forEach((ds: any) => {
      if (!ds.errX) return;
      const s = chart.scales[ds.yAxisID];
      ctx.strokeStyle = ds.errColor;
      ctx.lineWidth = 1.4;
      ctx.beginPath();
      ds.data.forEach((p: any, i: number) => {
        const e = ds.errX[i] || 0;
        if (e > 0) hbar(ctx, X(p.x - e), X(p.x + e), s.getPixelForValue(p.y), 2.5);
      });
      ctx.stroke();
    });
    ctx.restore();
  },
  afterDatasetsDraw(chart: any) {
    const ctx: CanvasRenderingContext2D = chart.ctx;
    const xs = chart.scales.x;
    const X = (v: number) => xs.getPixelForValue(v);
    ctx.save();
    // frame
    ctx.strokeStyle = '#1a1a1a';
    ctx.lineWidth = 2;
    ctx.strokeRect(11, 7, 900, 1541);
    ctx.beginPath();
    ctx.moveTo(11, 637); ctx.lineTo(911, 637);
    ctx.moveTo(11, 918); ctx.lineTo(911, 918);
    ctx.stroke();
    // age ticks (top of panel a, bottom of panel c)
    ctx.lineWidth = 1.2;
    ctx.strokeStyle = '#333';
    ctx.beginPath();
    xMajor.forEach((v) => { const x = X(v); ctx.moveTo(x, 7); ctx.lineTo(x, 16); ctx.moveTo(x, 1548); ctx.lineTo(x, 1539); });
    xMinor.forEach((v) => { const x = X(v); ctx.moveTo(x, 7); ctx.lineTo(x, 12); ctx.moveTo(x, 1548); ctx.lineTo(x, 1543); });
    ctx.stroke();
    ctx.fillStyle = '#111';
    ctx.font = `16px ${FONT}`;
    ctx.textAlign = 'center';
    ctx.textBaseline = 'middle';
    xMajor.forEach((v, i) => ctx.fillText(xMajorLabels[i], X(v), 1562));
    // y axes
    AXES.forEach((ax) => {
      const s = chart.scales[ax.scale];
      const Y = (v: number) => s.getPixelForValue(v);
      const dir = ax.side === 'left' ? 1 : -1;
      ctx.strokeStyle = '#2a2a2a';
      ctx.lineWidth = 1.3;
      ctx.beginPath();
      ctx.moveTo(ax.x, Y(ax.from));
      ctx.lineTo(ax.x, Y(ax.to));
      ax.major.concat(ax.minor || []).forEach((v) => { const y = Y(v); ctx.moveTo(ax.x, y); ctx.lineTo(ax.x + dir * 9, y); });
      ctx.stroke();
      ctx.fillStyle = '#111';
      ctx.font = `16px ${FONT}`;
      ctx.textBaseline = 'middle';
      ctx.textAlign = ax.side === 'left' ? 'right' : 'left';
      ax.major.forEach((v) => ctx.fillText(String(v), ax.x - dir * 4, Y(v)));
    });
    // axis titles
    TITLES.forEach((t) => richText(ctx, t.parts, t.x, t.y, t.size, t.rot));
    // notes
    NOTES.forEach((n) => {
      ctx.font = n.font;
      ctx.fillStyle = n.color;
      ctx.textAlign = n.align || 'left';
      ctx.textBaseline = 'middle';
      ctx.fillText(n.text, n.x, n.y);
    });
    ctx.restore();
  },
};

function buildDatasets() {
  const base = { tension: 0, fill: false, pointHoverRadius: 0 };
  const lineDs = (data: any, yAxisID: string, color: string, width: number, extra: any = {}) => ({
    ...base, data, yAxisID, borderColor: color, borderWidth: width, pointRadius: 0, ...extra,
  });
  return [
    // panel a
    lineDs(pts(aBr), 'aBr', '#111', 1.5, {
      borderDash: [2.5, 2.5], pointStyle: 'rect', pointRadius: 8.2, pointBackgroundColor: CYAN, pointBorderColor: '#000',
      pointBorderWidth: 1.5, errX: aBrErr, errColor: '#c6c6c6',
    }),
    lineDs(pts(aAlk), 'aAlk', CYAN, 1.6, {
      pointStyle: 'circle', pointRadius: 3, pointBackgroundColor: CYAN, pointBorderColor: '#000', pointBorderWidth: 1.3,
      errX: aAlkErr, errColor: '#c6c6c6',
    }),
    lineDs(pts(aTiK), 'aTiK', '#111', 1.6, { borderDash: [2.5, 2.5], pointRadius: 1.1, pointBackgroundColor: CYAN, pointBorderWidth: 0 }),
    lineDs(pts(aTiCa), 'aTiCa', CYAN, 1.8),
    lineDs(steps(aLsrAges, aLsrBlue), 'aLSR', CYAN, 2, { stepped: true }),
    lineDs(steps(aLsrGreyAAges, aLsrGreyA), 'aLSR', GREY_LSR, 1.5, { stepped: true }),
    lineDs(steps(aLsrGreyBAges, aLsrGreyB), 'aLSR', GREY_LSR, 1.5, { stepped: true }),
    // panel b
    lineDs(pts(bTiK), 'bTiK', '#111', 1.6, { borderDash: [2.5, 2.5], pointRadius: 1.1, pointBackgroundColor: BLUE_B, pointBorderWidth: 0 }),
    lineDs(pts(bTiCa), 'bTiCa', BLUE_B, 1.8),
    lineDs(steps(bLsrAges, bLsrBlue), 'bLSR', BLUE_B, 2, { stepped: true }),
    lineDs(steps(bLsrGreyAAges, bLsrGreyA), 'bLSR', GREY_LSR, 1.5, { stepped: true }),
    lineDs(steps(bLsrGreyBAges, bLsrGreyB), 'bLSR', GREY_LSR, 1.5, { stepped: true }),
    // panel c
    lineDs(pts(cBr), 'cBr', '#111', 1.5, {
      borderDash: [2.5, 2.5], pointStyle: 'rect', pointRadius: 8.5, pointBackgroundColor: '#0000c8', pointBorderColor: '#000',
      pointBorderWidth: 1.5, errX: cBrErr, errColor: '#8c8c8c',
    }),
    lineDs(pts(cAlk), 'cAlk', BLUE_C, 1.6, {
      pointStyle: 'circle', pointRadius: 3.3, pointBackgroundColor: '#ffffff', pointBorderColor: BLUE_C, pointBorderWidth: 1.5,
      errX: cAlkErr, errColor: '#8c8c8c',
    }),
    lineDs(pts(cTiK), 'cTiK', '#111', 1.7, { borderDash: [3, 3], pointRadius: 1, pointBackgroundColor: BLUE_C, pointBorderWidth: 0 }),
    lineDs(pts(cTiCa), 'cTiCa', BLUE_C, 2),
    lineDs(steps(cLsrAges, cLsrBlue), 'cLSR', BLUE_C, 2, { stepped: true }),
    lineDs(steps(cLsrGreyAAges, cLsrGreyA), 'cLSR', GREY_LSR, 1.5, { stepped: true }),
    lineDs(steps(cLsrGreyBAges, cLsrGreyB), 'cLSR', GREY_LSR, 1.5, { stepped: true }),
  ];
}

function buildScales() {
  const xb = bounds('x', true);
  const scales: any = { x: { type: 'linear', display: false, min: xb.min, max: xb.max, bounds: 'data' } };
  Object.keys(CAL).forEach((k) => {
    if (k === 'x') return;
    const b = bounds(k, false);
    scales[k] = { type: 'linear', axis: 'y', position: 'left', display: false, min: b.min, max: b.max, bounds: 'data' };
  });
  return scales;
}

export default function App() {
  const ref = useRef<HTMLCanvasElement | null>(null);
  useEffect(() => {
    if (!ref.current) return;
    const chart = new Chart(ref.current, {
      type: 'line',
      data: { datasets: buildDatasets() as any },
      options: {
        animation: false,
        responsive: false,
        devicePixelRatio: 1,
        events: [],
        layout: { padding: 0, autoPadding: false },
        plugins: { legend: { display: false }, tooltip: { enabled: false }, title: { display: false } },
        scales: buildScales(),
      } as any,
      plugins: [figurePlugin],
    });
    return () => chart.destroy();
  }, []);
  return (
    <div style={{ position: 'absolute', left: 0, top: 0, width: W, height: H, background: '#ffffff' }}>
      <canvas ref={ref} width={W} height={H} style={{ display: 'block', width: W, height: H }} />
    </div>
  );
}
